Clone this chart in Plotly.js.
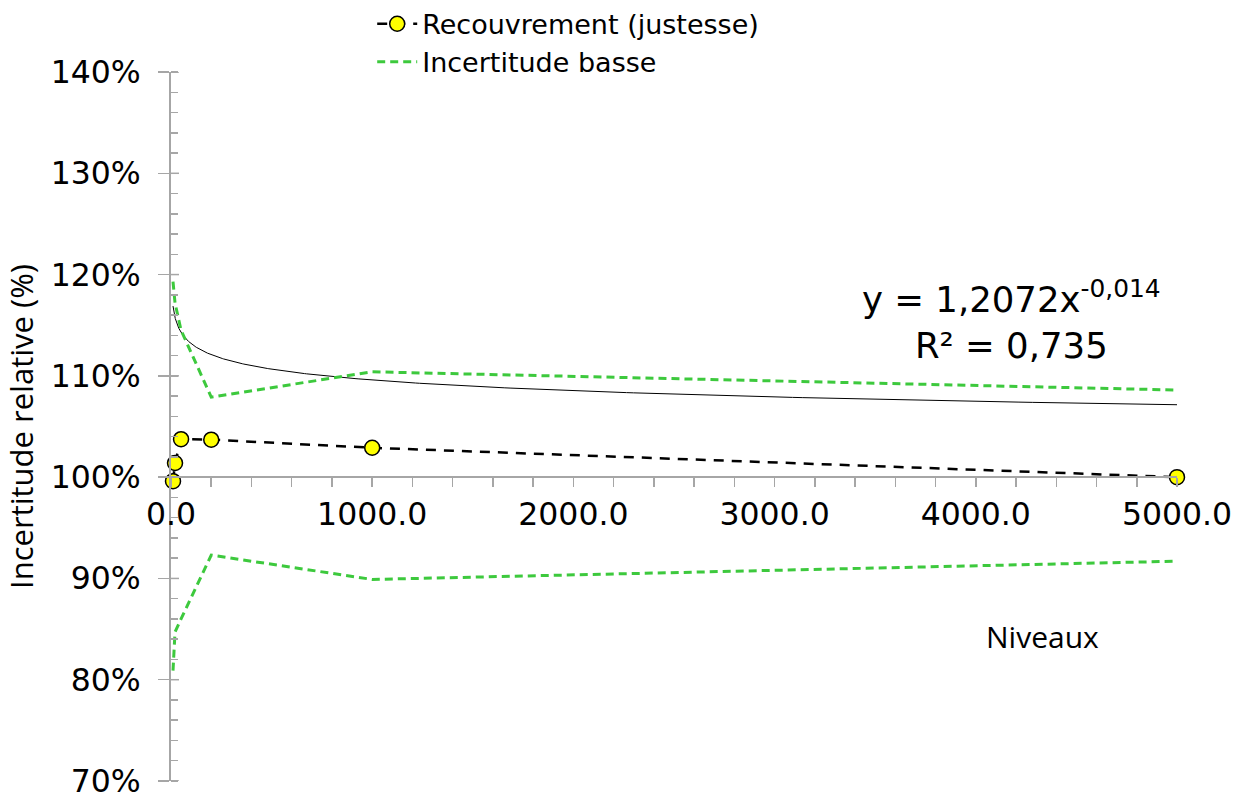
<!DOCTYPE html>
<html>
<head>
<meta charset="utf-8">
<script src="https://cdn.plot.ly/plotly-3.0.1.min.js"></script>
<style>html,body{margin:0;padding:0;background:#fff;}#chart{width:1240px;height:793px;}</style>
</head>
<body>
<div id="chart"></div>
<script>
// Levels (x) and series values
const niveaux = [10, 20, 50, 200, 1000, 5000];
const recouvrement = [0.996, 1.014, 1.0375, 1.037, 1.029, 1.000];
const incertitudeHaute = [1.193, 1.172, 1.145, 1.079, 1.104, 1.086];
const incertitudeBasse = [0.809, 0.847, 0.860, 0.923, 0.899, 0.917];

// Y major tick values
const yTicks = [0.7, 0.8, 0.9, 1.0, 1.1, 1.2, 1.3, 1.4];

// Power trendline shown in the chart: y = a * x^b
const trendA = 1.2072;
const trendB = -0.014;
const trendR2Label = "R² = 0,735";
const trendEqLabel = "y = 1,2072x<sup>-0,014</sup>";

const trendX = [];
const trendY = [];
for (let i = 0; i <= 400; i++) {
  const x = niveaux[0] * Math.pow(niveaux[niveaux.length - 1] / niveaux[0], i / 400);
  trendX.push(x);
  trendY.push(trendA * Math.pow(x, trendB));
}

const green = '#3DC93D';
const axisGray = '#A6A6A6';

const traces = [
  {
    x: trendX, y: trendY, mode: 'lines', showlegend: false, hoverinfo: 'skip',
    line: {color: '#000000', width: 1}
  },
  {
    x: niveaux, y: incertitudeHaute, mode: 'lines', showlegend: false,
    line: {color: green, width: 3, dash: '8px,5px'}
  },
  {
    x: niveaux, y: recouvrement, mode: 'lines+markers', name: 'Recouvrement (justesse)',
    line: {color: '#000000', width: 2.5, dash: '10px,8px'},
    marker: {color: '#FFFF00', size: 15, line: {color: '#000000', width: 1.5}},
    cliponaxis: false
  },
  {
    x: niveaux, y: incertitudeBasse, mode: 'lines', name: 'Incertitude basse',
    line: {color: green, width: 3, dash: '8px,5px'}
  }
];

// inner half of the crossing major ticks on the y axis
const tickShapes = yTicks.map(v => ({
  type: 'line', xref: 'paper', yref: 'y', x0: 0, x1: 8 / 1006, y0: v, y1: v,
  line: {color: axisGray, width: 1.5}, layer: 'below'
}));

const layout = {
  width: 1240, height: 793,
  margin: {l: 171, r: 63, t: 72, b: 12, autoexpand: false},
  paper_bgcolor: '#ffffff', plot_bgcolor: '#ffffff',
  font: {family: 'DejaVu Sans, Verdana, sans-serif', color: '#000000', size: 31},
  showlegend: true,
  legend: {
    x: 0.2, xanchor: 'left', y: 1.102, yanchor: 'top',
    font: {size: 27, family: 'DejaVu Sans, Verdana, sans-serif'},
    bgcolor: 'rgba(0,0,0,0)', tracegroupgap: 0, itemwidth: 40
  },
  xaxis: {
    range: [0, 5000], dtick: 1000, tick0: 0, tickformat: '.1f',
    anchor: 'free', position: 0.3 / 0.7,
    showline: true, linecolor: axisGray, linewidth: 2,
    ticks: 'outside', ticklen: 9, tickcolor: axisGray, tickwidth: 1.5,
    minor: {dtick: 200, ticks: 'outside', ticklen: 9, tickcolor: axisGray, tickwidth: 1.5},
    showgrid: false, zeroline: false,
    ticklabeloverflow: 'allow',
    tickfont: {size: 31.5}
  },
  yaxis: {
    range: [0.7, 1.4], tickvals: yTicks, tickformat: '.0%',
    showline: true, linecolor: axisGray, linewidth: 2,
    ticks: 'outside', ticklen: 11, tickcolor: axisGray, tickwidth: 1.5,
    minor: {dtick: 0.02, tick0: 0.7, ticks: 'inside', ticklen: 7, tickcolor: axisGray, tickwidth: 1.5},
    showgrid: false, zeroline: false,
    ticklabelstandoff: 11,
    ticklabeloverflow: 'allow',
    tickfont: {size: 31.5},
    title: {text: 'Incertitude relative (%)', font: {family: 'Open Sans, sans-serif', size: 31}, standoff: 10}
  },
  shapes: tickShapes,
  annotations: [
    {
      x: 4175, y: 1.155, xref: 'x', yref: 'y', showarrow: false,
      text: trendEqLabel + '<br>' + trendR2Label, align: 'center',
      font: {size: 35.5, family: 'DejaVu Sans, Verdana, sans-serif'}
    },
    {
      x: 4330, y: 0.843, xref: 'x', yref: 'y', showarrow: false,
      text: 'Niveaux', font: {size: 30, family: 'Open Sans, sans-serif'}
    }
  ]
};

Plotly.newPlot('chart', traces, layout, {displayModeBar: false, staticPlot: true});
</script>
</body>
</html>
